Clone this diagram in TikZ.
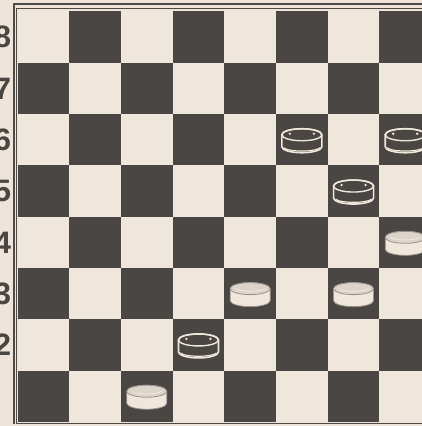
\documentclass[tikz,border=0pt]{standalone}
\usepackage{fontspec}
\setmainfont{Liberation Sans}
\definecolor{sqdark}{HTML}{4A4644}
\definecolor{sqlight}{HTML}{EFE6DC}
\definecolor{paper}{HTML}{EEE4DA}
\definecolor{frameline}{HTML}{4E4A48}
\definecolor{rimgray}{HTML}{9A928C}
\tikzset{
  lightsq/.style={fill=sqlight},
  darksq/.style={fill=sqdark},
  ranklabel/.style={font=\bfseries\fontsize{31}{31}\selectfont, text=sqdark, inner sep=0pt},
  whitepiece/.pic={
    \path[fill=sqlight, draw=rimgray, line width=0.8pt]
      (-20,5) -- (-20,-7) arc[start angle=180,end angle=360,x radius=20,y radius=6]
      -- (20,5) arc[start angle=0,end angle=180,x radius=20,y radius=6] -- cycle;
    \path[draw=rimgray, line width=0.8pt, fill=sqlight!92!black] (0,5) ellipse[x radius=20,y radius=6];
    \path[draw=sqlight, line width=1pt] (-15,5) arc[start angle=200,end angle=340,x radius=16,y radius=4];
  },
  blackpiece/.pic={
    \path[fill=sqdark, draw=sqlight, line width=1.6pt]
      (-20,5) -- (-20,-7) arc[start angle=180,end angle=360,x radius=20,y radius=6]
      -- (20,5) arc[start angle=0,end angle=180,x radius=20,y radius=6] -- cycle;
    \path[draw=sqlight, line width=1.4pt] (0,5) ellipse[x radius=20,y radius=6];
    \path[draw=sqlight, line width=1.2pt] (-18,-8) arc[start angle=190,end angle=350,x radius=18.3,y radius=4];
    \fill[sqlight] (-12,6) circle (1.3) (12,6) circle (1.3);
  }
}
\begin{document}
\begin{tikzpicture}[x=1pt,y=1pt]
  \useasboundingbox (0,0) rectangle (422,426);
  \fill[paper] (0,0) rectangle (422,426);
  \begin{scope}
    \clip (0,0) rectangle (422,426);
    % squares
    \foreach \c in {0,...,7}{
      \foreach \r in {0,...,7}{
        \pgfmathsetmacro{\xa}{17.5+51.7*\c}
        \pgfmathsetmacro{\ya}{426-11.5-51.3*(\r+1)}
        \pgfmathtruncatemacro{\sqpar}{mod(\c+\r,2)}
        \ifnum\sqpar=0
          \path[lightsq] (\xa,\ya) rectangle ++(51.7,51.3);
        \else
          \path[darksq] (\xa,\ya) rectangle ++(51.7,51.3);
        \fi
      }
    }
    % frame
    \draw[frameline, line width=1.8pt] (14,426-424.5) -- (14,426-4) -- (430,426-4);
    \draw[frameline, line width=0.7pt] (16.3,426-423) -- (16.3,426-8.8) -- (430,426-8.8);
    \draw[frameline, line width=0.7pt] (16.3,426-423) -- (430,426-423);
    % rank labels
    \foreach \r/\t in {0/8,1/7,2/6,3/5,4/4,5/3,6/2}{
      \node[ranklabel] (rank\t) at (2.5,{426-11.5-51.3*(\r+0.5)}) {\t};
    }
    % pieces
    \foreach \c/\r in {5/2,7/2,6/3,3/6}{
      \pic at ({17.5+51.7*(\c+0.5)},{426-11.5-51.3*(\r+0.5)}) {blackpiece};
    }
    \foreach \c/\r in {7/4,4/5,6/5,2/7}{
      \pic at ({17.5+51.7*(\c+0.5)},{426-11.5-51.3*(\r+0.5)}) {whitepiece};
    }
  \end{scope}
\end{tikzpicture}
\end{document}
